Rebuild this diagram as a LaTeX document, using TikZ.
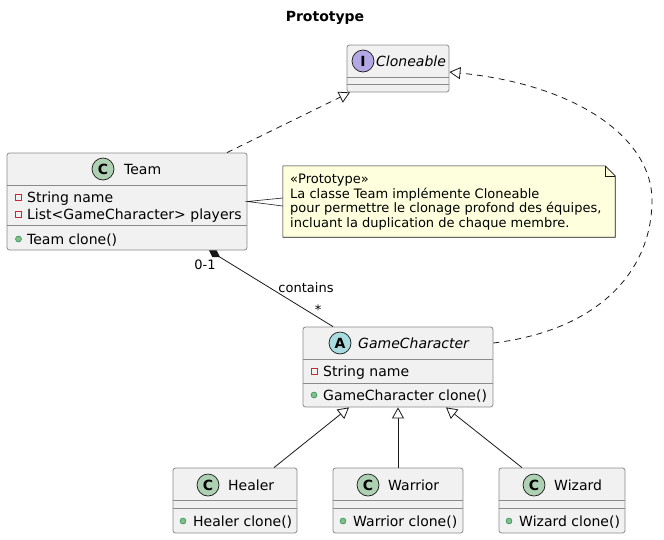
\documentclass[tikz,border=0pt]{standalone}
\usepackage{fontspec}
\setmainfont{DejaVu Sans}
\usetikzlibrary{arrows.meta}

\definecolor{boxfill}{HTML}{F1F1F1}
\definecolor{boxline}{HTML}{8A8A8A}
\definecolor{inkline}{HTML}{181818}
\definecolor{spotC}{HTML}{ADD1B2}
\definecolor{spotI}{HTML}{B4A7E5}
\definecolor{spotA}{HTML}{A9DCDF}
\definecolor{notefill}{HTML}{FEFFDD}
\definecolor{privred}{HTML}{C82930}
\definecolor{pubgreen}{HTML}{84BE84}
\definecolor{publine}{HTML}{038048}

\begin{document}
\begin{tikzpicture}[
    x=1pt, y=-1pt,
    classbox/.style={draw=boxline, fill=boxfill, rounded corners=2.5pt, line width=0.8pt, inner sep=0pt},
    divider/.style={draw=boxline, line width=0.8pt},
    spot/.style={circle, draw=inkline, line width=0.7pt, minimum size=22pt, inner sep=0pt, font=\fontsize{14}{14}\selectfont\bfseries},
    cname/.style={anchor=west, inner sep=0pt, text height=10.5pt, text depth=0pt, font=\fontsize{14}{16}\selectfont},
    member/.style={anchor=west, inner sep=0pt, text height=10.5pt, text depth=0pt, font=\fontsize{14}{16}\selectfont},
    priv/.style={draw=privred, line width=0.7pt, minimum size=6pt, inner sep=0pt},
    pub/.style={circle, draw=publine, fill=pubgreen, line width=0.4pt, minimum size=6pt, inner sep=0pt},
    tag/.style={inner sep=0pt, font=\fontsize{13}{15}\selectfont},
    link/.style={draw=inkline, line width=0.8pt},
    extend/.style={link, -{Triangle[open, length=11pt, width=12pt, fill=white]}},
    realize/.style={extend, dash pattern=on 6pt off 5pt},
]
    \useasboundingbox (0,0) rectangle (664,539);

    \node[font=\fontsize{14}{16}\selectfont\bfseries] (title) at (325,18) {Prototype};

    % interface
    \node[classbox, minimum width=102pt, minimum height=47pt] (cloneable) at (398,68.5) {};
    \draw[divider] (cloneable.west |- 0,77) -- (cloneable.east |- 0,77);
    \draw[divider] (cloneable.west |- 0,84) -- (cloneable.east |- 0,84);
    \node[spot, fill=spotI] (cloneablespot) at (363,61) {I};
    \node[cname] (cloneablename) at (376,61) {\itshape Cloneable};

    % Team
    \node[classbox, minimum width=240pt, minimum height=97pt] (team) at (127,201.5) {};
    \draw[divider] (team.west |- 0,185) -- (team.east |- 0,185);
    \draw[divider] (team.west |- 0,225) -- (team.east |- 0,225);
    \node[spot, fill=spotC] (teamspot) at (103,169) {C};
    \node[cname] (teamname) at (124,169) {Team};
    \foreach \ty/\yy/\tx [count=\i] in {priv/197/String name, priv/214/List<GameCharacter> players, pub/239/Team clone()}
    {
      \node[\ty] (teamicon\i) at (18.5,\yy) {};
      \node[member] (teammember\i) at (27,\yy) {\tx};
    }

    % GameCharacter
    \node[classbox, minimum width=190pt, minimum height=80pt] (character) at (398,367) {};
    \draw[divider] (character.west |- 0,359) -- (character.east |- 0,359);
    \draw[divider] (character.west |- 0,383) -- (character.east |- 0,383);
    \node[spot, fill=spotA] (characterspot) at (340,343) {A};
    \node[cname] (charactername) at (358,343) {\itshape GameCharacter};
    \foreach \ty/\yy/\tx [count=\i] in {priv/371/String name, pub/395/GameCharacter clone()}
    {
      \node[\ty] (charactericon\i) at (314,\yy) {};
      \node[member] (charactermember\i) at (323,\yy) {\tx};
    }

    % subclasses
    \foreach \cls/\nm/\cx/\bw/\sx/\fx/\tx in {healer/Healer/235/124/208/274/349, warrior/Warrior/398/130/368/398/398, wizard/Wizard/562/126/534/522/446}
    {
      \node[classbox, minimum width=\bw pt, minimum height=65pt] (\cls) at (\cx,500.5) {};
      \draw[divider] (\cls.west |- 0,500) -- (\cls.east |- 0,500);
      \draw[divider] (\cls.west |- 0,508) -- (\cls.east |- 0,508);
      \node[spot, fill=spotC] (\cls spot) at (\sx,485) {C};
      \node[cname] (\cls name) at (\sx+20,485) {\nm};
      \node[pub] (\cls icon) at (\sx-25,521) {};
      \node[member] (\cls member) at (\sx-15,521) {\nm{} clone()};
      \draw[extend] (\cls.north -| \fx,0) -- (character.south -| \tx,0);
    }

    % note
    \node[minimum width=332pt, minimum height=71pt, inner sep=0pt] (note) at (449,201.5) {};
    \draw[draw=inkline, fill=notefill, line width=0.6pt] (note.north west) -- ([xshift=-10pt]note.north east)
      -- ([yshift=-10pt]note.north east) -- (note.south east) -- (note.south west) -- cycle;
    \draw[draw=inkline, line width=0.6pt] ([xshift=-10pt]note.north east) |- ([yshift=-10pt]note.north east);
    \draw[draw=inkline, line width=0.6pt] (note.west |- 0,198) -- (team.east) -- (note.west |- 0,206);
    \node[tag, anchor=west, align=left, font=\fontsize{13}{14.7}\selectfont] (notetext) at (290,202)
      {«Prototype»\\La classe Team implémente Cloneable\\pour permettre le clonage profond des équipes,\\incluant la duplication de chaque membre.};

    % relations
    \draw[realize] (team.north -| 227,0) -- (cloneable.south -| 350,0);
    \draw[realize] (character.east |- 0,343) .. controls (600,330) and (652,270) .. (652,200)
      .. controls (652,140) and (580,85) .. (cloneable.east |- 0,72);
    \draw[link, {Diamond[length=13pt, width=8pt]}-] (team.south -| 209,0) -- (character.north -| 333,0);
    \node[tag] (teamend) at (205,265) {0-1};
    \node[tag] (contains) at (306,288) {contains};
    \node[tag] (characterend) at (318,310) {*};
\end{tikzpicture}
\end{document}
